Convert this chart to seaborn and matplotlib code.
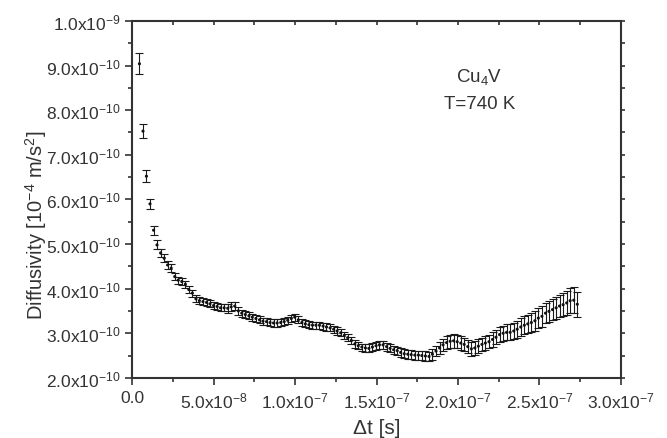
import numpy as np
import pandas as pd
import matplotlib
matplotlib.use('Agg')
import matplotlib.pyplot as plt
import seaborn as sns
from matplotlib.ticker import MultipleLocator, FuncFormatter

# time step in ns
t_ns = [4.5, 6.7, 8.8, 11.0, 13.2, 15.3, 17.5, 19.7, 21.8, 24.0,
        26.2, 28.3, 30.5, 32.7, 34.8, 37.0, 39.2, 41.3, 43.5, 45.7,
        47.8, 50.0, 52.2, 54.3, 56.5, 58.7, 60.8, 63.0, 65.2, 67.3,
        69.5, 71.7, 73.8, 76.0, 78.2, 80.3, 82.5, 84.7, 86.8, 89.0,
        91.2, 93.3, 95.5, 97.7, 99.8, 102.0, 104.2, 106.3, 108.5, 110.7,
        112.8, 115.0, 117.2, 119.3, 121.5, 123.7, 125.8, 128.0, 130.2, 132.3,
        134.5, 136.7, 138.8, 141.0, 143.2, 145.3, 147.5, 149.7, 151.8, 154.0,
        156.2, 158.3, 160.5, 162.7, 164.8, 167.0, 169.2, 171.3, 173.5, 175.7,
        177.8, 180.0, 182.2, 184.3, 186.5, 188.7, 190.8, 193.0, 195.2, 197.3,
        199.5, 201.7, 203.8, 206.0, 208.2, 210.3, 212.5, 214.7, 216.8, 219.0,
        221.2, 223.3, 225.5, 227.7, 229.8, 232.0, 234.2, 236.3, 238.5, 240.7,
        242.8, 245.0, 247.2, 249.3, 251.5, 253.7, 255.8, 258.0, 260.2, 262.3,
        264.5, 266.7, 268.8, 271.0, 273.2]

# diffusivity in 1e-10
diff = [9.04, 7.53, 6.52, 5.90, 5.31, 4.98, 4.80, 4.68, 4.53, 4.46,
        4.27, 4.19, 4.16, 4.10, 3.98, 3.90, 3.77, 3.73, 3.71, 3.69,
        3.66, 3.62, 3.60, 3.57, 3.57, 3.56, 3.59, 3.61, 3.50, 3.45,
        3.42, 3.39, 3.36, 3.33, 3.30, 3.27, 3.26, 3.24, 3.23, 3.23,
        3.24, 3.26, 3.29, 3.33, 3.36, 3.30, 3.24, 3.21, 3.19, 3.18,
        3.18, 3.18, 3.16, 3.14, 3.12, 3.09, 3.05, 3.01, 2.95, 2.90,
        2.84, 2.76, 2.72, 2.69, 2.67, 2.66, 2.69, 2.72, 2.74, 2.74,
        2.70, 2.66, 2.63, 2.61, 2.57, 2.54, 2.53, 2.52, 2.51, 2.51,
        2.50, 2.49, 2.48, 2.53, 2.60, 2.67, 2.74, 2.79, 2.82, 2.83,
        2.81, 2.78, 2.75, 2.70, 2.65, 2.67, 2.71, 2.75, 2.78, 2.81,
        2.86, 2.91, 2.97, 3.00, 3.02, 3.02, 3.05, 3.09, 3.14, 3.18,
        3.21, 3.24, 3.28, 3.34, 3.38, 3.45, 3.49, 3.53, 3.57, 3.61,
        3.64, 3.68, 3.73, 3.74, 3.65]

err = [0.24, 0.16, 0.13, 0.11, 0.10, 0.10, 0.09, 0.09, 0.09, 0.09,
       0.08, 0.08, 0.08, 0.08, 0.08, 0.08, 0.08, 0.08, 0.08, 0.08,
       0.08, 0.08, 0.08, 0.08, 0.08, 0.10, 0.10, 0.10, 0.09, 0.08,
       0.08, 0.08, 0.08, 0.08, 0.08, 0.08, 0.08, 0.08, 0.08, 0.08,
       0.08, 0.08, 0.08, 0.08, 0.08, 0.08, 0.08, 0.08, 0.08, 0.08,
       0.08, 0.08, 0.08, 0.08, 0.08, 0.08, 0.08, 0.08, 0.08, 0.08,
       0.08, 0.08, 0.08, 0.08, 0.08, 0.09, 0.09, 0.09, 0.09, 0.09,
       0.09, 0.09, 0.09, 0.09, 0.10, 0.10, 0.10, 0.10, 0.10, 0.10,
       0.10, 0.11, 0.11, 0.12, 0.12, 0.13, 0.13, 0.14, 0.14, 0.15,
       0.15, 0.15, 0.15, 0.15, 0.15, 0.15, 0.15, 0.15, 0.15, 0.15,
       0.16, 0.16, 0.17, 0.17, 0.18, 0.18, 0.19, 0.19, 0.20, 0.20,
       0.21, 0.21, 0.22, 0.22, 0.23, 0.23, 0.24, 0.24, 0.25, 0.25,
       0.26, 0.27, 0.28, 0.29, 0.28]

x_ticks = [0.0, 5e-8, 1e-7, 1.5e-7, 2e-7, 2.5e-7, 3e-7]
y_ticks = [2e-10, 3e-10, 4e-10, 5e-10, 6e-10, 7e-10, 8e-10, 9e-10, 1e-9]

df = pd.DataFrame({'t': np.array(t_ns) * 1e-9,
                   'D': np.array(diff) * 1e-10,
                   'err': np.array(err) * 1e-10})

sns.set_style('ticks')
plt.rcParams['font.family'] = ['Liberation Sans', 'DejaVu Sans']
plt.rcParams['mathtext.fontset'] = 'custom'
plt.rcParams['mathtext.rm'] = 'Liberation Sans'
plt.rcParams['mathtext.it'] = 'Liberation Sans:italic'
plt.rcParams['mathtext.bf'] = 'Liberation Sans:bold'

fig = plt.figure(figsize=(6.67, 4.39), dpi=100)
ax = fig.add_axes([0.198, 0.137, 0.733, 0.813])

ax.errorbar(df['t'], df['D'], yerr=df['err'], fmt='none', ecolor='#1a1a1a',
            elinewidth=0.8, capsize=3.2, capthick=0.8)
sns.scatterplot(data=df, x='t', y='D', ax=ax, color='#111111', s=5,
                edgecolor='none', zorder=3)


def sci_fmt(v, pos):
    if abs(v) < 1e-20:
        return '0.0'
    e = int(np.floor(np.log10(abs(v)) + 1e-9))
    m = v / 10 ** e
    return r'%.1fx10$^{%d}$' % (m, e)


ax.set_xticks(x_ticks)
ax.set_yticks(y_ticks)
ax.xaxis.set_minor_locator(MultipleLocator(2.5e-8))
ax.yaxis.set_minor_locator(MultipleLocator(0.5e-10))
ax.xaxis.set_major_formatter(FuncFormatter(sci_fmt))
ax.yaxis.set_major_formatter(FuncFormatter(sci_fmt))
ax.set_xlim(0, 3.0e-7)
ax.set_ylim(2.0e-10, 1.0e-9)

ax.tick_params(which='major', direction='out', length=5, width=1.2,
               colors='#333333', labelsize=12.5)
ax.tick_params(which='minor', direction='out', length=3, width=1.2,
               colors='#333333')
ax.tick_params(axis='x', pad=4)
ax.tick_params(axis='y', pad=3)

for sp in ax.spines.values():
    sp.set_visible(True)
    sp.set_linewidth(1.5)
    sp.set_color('#333333')

top = ax.secondary_xaxis('top')
top.set_xticks([i * 2.5e-8 for i in range(13)])
top.tick_params(direction='in', length=3, width=1.2, colors='#333333',
                labeltop=False)
top.spines['top'].set_visible(False)
right = ax.secondary_yaxis('right')
right.set_yticks([2e-10 + i * 0.5e-10 for i in range(17)])
right.tick_params(direction='out', length=3, width=1.2, colors='#333333',
                  labelright=False)
right.spines['right'].set_visible(False)

ax.set_xlabel('Δt [s]', fontsize=15, color='#333333')
ax.xaxis.set_label_coords(0.5, -0.112)
ax.set_ylabel(r'Diffusivity [10$^{-4}$ m/s$^{2}$]', fontsize=14.5,
              color='#333333')
ax.yaxis.set_label_coords(-0.17, 0.43)

ax.text(0.71, 0.845, r'Cu$_4$V', transform=ax.transAxes, fontsize=13.5,
        color='#333333', ha='center', va='center')
ax.text(0.71, 0.77, 'T=740 K', transform=ax.transAxes, fontsize=13.5,
        color='#333333', ha='center', va='center')

fig.savefig('out.png', dpi=100)
